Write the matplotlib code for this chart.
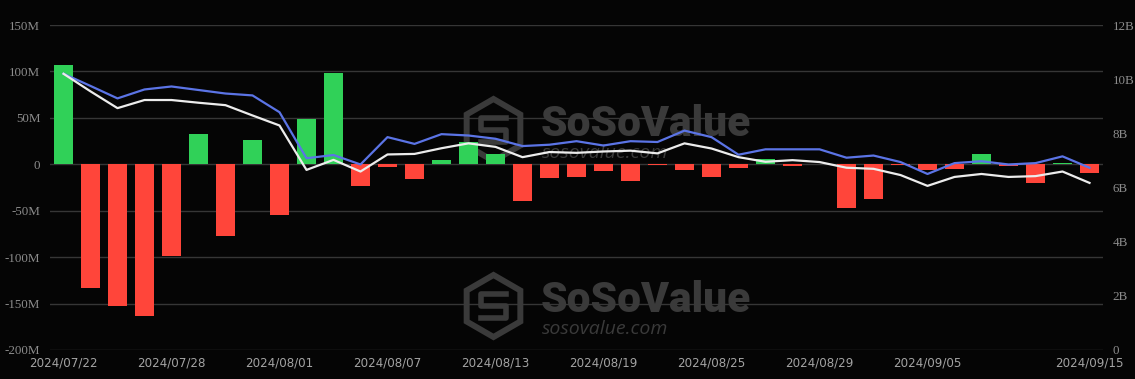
import matplotlib
matplotlib.use('Agg')
from matplotlib import pyplot as plt
from matplotlib.patches import RegularPolygon
from matplotlib.ticker import FuncFormatter, MultipleLocator

# datas (categorias) e valores
dates = ['2024/07/22', '2024/07/23', '2024/07/24', '2024/07/25', '2024/07/28',
         '2024/07/29', '2024/07/30', '2024/07/31', '2024/08/01', '2024/08/04',
         '2024/08/05', '2024/08/06', '2024/08/07', '2024/08/08', '2024/08/11',
         '2024/08/12', '2024/08/13', '2024/08/14', '2024/08/15', '2024/08/18',
         '2024/08/19', '2024/08/20', '2024/08/21', '2024/08/22', '2024/08/25',
         '2024/08/26', '2024/08/27', '2024/08/28', '2024/08/29', '2024/09/02',
         '2024/09/03', '2024/09/04', '2024/09/05', '2024/09/08', '2024/09/09',
         '2024/09/10', '2024/09/11', '2024/09/12', '2024/09/15']

# fluxo líquido diário (milhões USD)
net_flow_m = [106.5, -133.1, -152.5, -163.0, -98.6, 33.1, -77.3, 26.3, -54.3, 48.6,
              98.2, -23.7, -2.9, -15.8, 4.7, 24.1, 10.8, -39.6, -15.1, -13.7,
              -6.8, -18.0, -1.0, -5.8, -13.7, -3.6, 5.4, -1.8, 0.0, -47.5,
              -37.4, -0.5, -6.5, -5.0, 11.2, -1.4, -20.1, 1.1, -9.4]

# linhas do eixo direito (bilhões USD)
blue_b = [10.2, 9.75, 9.29, 9.62, 9.73, 9.60, 9.47, 9.40, 8.78, 7.08,
          7.20, 6.85, 7.86, 7.61, 7.97, 7.92, 7.80, 7.53, 7.58, 7.71,
          7.55, 7.71, 7.68, 8.10, 7.86, 7.21, 7.41, 7.41, 7.41, 7.10,
          7.18, 6.94, 6.50, 6.90, 6.97, 6.85, 6.90, 7.15, 6.73]
white_b = [10.2, 9.55, 8.93, 9.23, 9.23, 9.13, 9.04, 8.66, 8.29, 6.65,
           7.02, 6.59, 7.22, 7.24, 7.45, 7.63, 7.50, 7.12, 7.31, 7.28,
           7.33, 7.36, 7.26, 7.63, 7.44, 7.12, 6.95, 7.01, 6.94, 6.73,
           6.69, 6.46, 6.06, 6.39, 6.50, 6.39, 6.42, 6.59, 6.17]

tick_idx = [0, 4, 8, 12, 16, 20, 24, 28, 32, 38]

bg = '#050505'
grid_c = '#363636'
green = '#30d158'
red = '#ff453a'

fig = plt.figure(figsize=(11.35, 3.79), dpi=100, facecolor=bg)
ax = fig.add_axes([50 / 1135, 1 - 350 / 379, 1053 / 1135, 325 / 379])
ax.patch.set_visible(False)
ax2 = ax.twinx()
ax2.patch.set_visible(False)

x = list(range(len(dates)))
flows = [v * 1e6 for v in net_flow_m]
cols = [green if v >= 0 else red for v in net_flow_m]
ax.bar(x, flows, width=0.68, color=cols, zorder=3)

ax.set_ylim(-200e6, 150e6)
ax.set_xlim(-0.5, len(dates) - 0.5)
ax.yaxis.set_major_locator(MultipleLocator(50e6))
ax.yaxis.set_major_formatter(FuncFormatter(
    lambda v, p: '0' if abs(v) < 1 else ('-' if v < 0 else '') + '%dM' % round(abs(v) / 1e6)))
ax.grid(axis='y', color=grid_c, linewidth=1, zorder=0)
ax.set_axisbelow(True)

ax2.plot(x, [v * 1e9 for v in blue_b], color='#5b74e6', linewidth=1.6, zorder=4)
ax2.plot(x, [v * 1e9 for v in white_b], color='#ececec', linewidth=1.6, zorder=4)
ax2.set_ylim(0, 12e9)
ax2.yaxis.set_major_locator(MultipleLocator(2e9))
ax2.yaxis.set_major_formatter(FuncFormatter(
    lambda v, p: '0' if v == 0 else '%dB' % round(v / 1e9)))

ax.set_xticks(tick_idx)
ax.set_xticklabels([dates[i] for i in tick_idx])

for a in (ax, ax2):
    for s in a.spines.values():
        s.set_visible(False)
ax.tick_params(axis='x', length=0, pad=5, labelsize=8.6, labelcolor='#a3a3a3')
ax.tick_params(axis='y', length=0, pad=7, labelsize=9.4, labelcolor='#8c8c8c')
ax2.tick_params(axis='y', length=0, pad=7, labelsize=9.4, labelcolor='#8c8c8c')
for lbl in ax.get_yticklabels() + ax2.get_yticklabels():
    lbl.set_fontfamily('Liberation Serif')

# marca d'água SoSoValue (duas vezes): acima da grade, abaixo das barras
wm = '#3a3a3a'
for top in (0, 176):
    ax.text(541 / 1135, 1 - (136 + top) / 379, 'SoSoValue', color=wm,
            fontsize=30.5, fontweight='black', family='Roboto', va='baseline',
            transform=fig.transFigure, zorder=1.5)
    ax.text(542 / 1135, 1 - (158 + top) / 379, 'sosovalue.com', color=wm,
            fontsize=14, style='italic', family='Open Sans', va='baseline',
            transform=fig.transFigure, zorder=1.5)
    cx, cy = 493.5 / 100, (379 - 130 - top) / 100
    hexa = RegularPolygon((cx, cy), 6, radius=0.31, orientation=0,
                          facecolor='none', edgecolor=wm, linewidth=4.3,
                          transform=fig.dpi_scale_trans, zorder=1.5, clip_on=False)
    ax.add_artist(hexa)
    # "S" interno do logotipo (aproximado)
    ax.add_artist(plt.Line2D([cx + 0.12, cx - 0.12, cx - 0.12, cx + 0.12, cx + 0.12, cx - 0.12],
                             [cy + 0.12, cy + 0.12, cy, cy, cy - 0.12, cy - 0.12],
                             color=wm, linewidth=4, transform=fig.dpi_scale_trans,
                             zorder=1.5, clip_on=False))

fig.savefig('out.png', dpi=100, facecolor=bg)
